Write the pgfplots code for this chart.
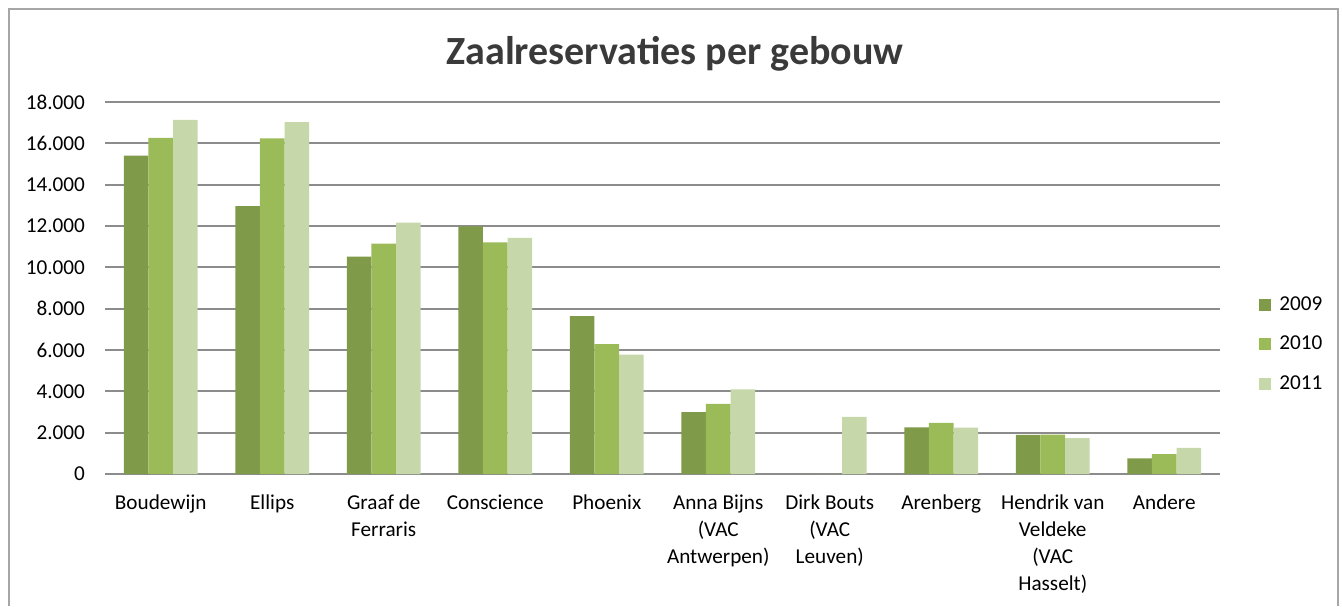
\documentclass[border=0pt]{standalone}
\usepackage{pgfplots}
\pgfplotsset{compat=1.18}
\usepackage{pgfplotstable}
\usepackage{fontspec}
\setmainfont{Carlito}
\definecolor{cA}{HTML}{7F9A48}
\definecolor{cB}{HTML}{9BBB59}
\definecolor{cC}{HTML}{C6D7AA}
\definecolor{gridc}{HTML}{8C8C8C}
\definecolor{framec}{HTML}{A6A6A6}
\definecolor{titlec}{HTML}{3A3A3A}
\pgfplotstableread{
x y2009 y2010 y2011
0 15400 16260 17130
1 12960 16240 17030
2 10520 11150 12160
3 11980 11210 11420
4 7640 6280 5780
5 3000 3390 4100
6 0 0 2770
7 2260 2480 2240
8 1890 1900 1740
9 760 960 1270
}\data
\begin{document}
\begin{tikzpicture}
\useasboundingbox (0,0) rectangle (671pt,303pt);
\draw[framec, line width=1pt] (4.5pt,0pt) -- (4.5pt,298.5pt) -- (669pt,298.5pt) -- (669pt,0pt);
\node[font=\fontsize{20}{24}\selectfont\bfseries, text=titlec] at (337.5pt,276pt) {Zaalreservaties per gebouw};
\begin{axis}[
  at={(52.5pt,66pt)}, anchor=south west,
  width=557.5pt, height=186pt, scale only axis,
  xmin=-0.5, xmax=9.5, ymin=0, ymax=18000,
  scaled y ticks=false,
  ybar=0pt, bar width=12.3pt,
  axis line style={draw=none},
  major tick length=0pt,
  ymajorgrids, grid style={gridc, line width=1pt},
  ytick={0,2000,4000,6000,8000,10000,12000,14000,16000,18000},
  yticklabels={0,2.000,4.000,6.000,8.000,10.000,12.000,14.000,16.000,18.000},
  xtick={0,...,9},
  xticklabels={Boudewijn,Ellips,Graaf de\\Ferraris,Conscience,Phoenix,Anna Bijns\\(VAC\\Antwerpen),Dirk Bouts\\(VAC\\Leuven),Arenberg,Hendrik van\\Veldeke\\(VAC\\Hasselt),Andere},
  tick label style={font=\fontsize{10.6}{13.4}\selectfont},
  xticklabel style={align=center, anchor=north, yshift=-7pt},
  yticklabel style={xshift=-6.5pt},
  legend style={at={(1.0296,0.349)}, anchor=west, draw=none, fill=none,
    font=\fontsize{10.6}{13.3}\selectfont, row sep=11pt,
    nodes={inner sep=0pt, text height=7.3pt, text depth=1.5pt},
    /tikz/every odd column/.append style={column sep=4pt}},
  legend image code/.code={\fill[#1,draw=none] (0pt,-3pt) rectangle (6pt,3pt);},
]
\addplot[fill=cA, draw=none] table[x=x, y=y2009] {\data};
\addplot[fill=cB, draw=none] table[x=x, y=y2010] {\data};
\addplot[fill=cC, draw=none] table[x=x, y=y2011] {\data};
\legend{2009,2010,2011}
\end{axis}
\end{tikzpicture}
\end{document}
